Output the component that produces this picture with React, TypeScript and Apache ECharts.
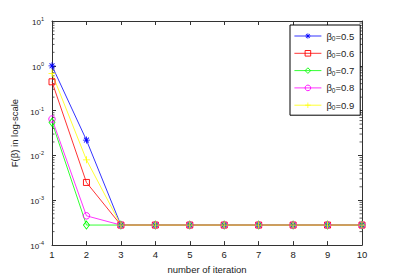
import React, { useEffect, useRef } from "react";
import * as echarts from "echarts";

const iterations = [1, 2, 3, 4, 5, 6, 7, 8, 9, 10];
const beta05 = [1.0, 0.022, 0.00028, 0.00028, 0.00028, 0.00028, 0.00028, 0.00028, 0.00028, 0.00028];
const beta06 = [0.44, 0.0025, 0.00028, 0.00028, 0.00028, 0.00028, 0.00028, 0.00028, 0.00028, 0.00028];
const beta07 = [0.055, 0.00028, 0.00028, 0.00028, 0.00028, 0.00028, 0.00028, 0.00028, 0.00028, 0.00028];
const beta08 = [0.065, 0.00045, 0.00028, 0.00028, 0.00028, 0.00028, 0.00028, 0.00028, 0.00028, 0.00028];
const beta09 = [0.68, 0.008, 0.00028, 0.00028, 0.00028, 0.00028, 0.00028, 0.00028, 0.00028, 0.00028];
const seriesNames = ["β0=0.5", "β0=0.6", "β0=0.7", "β0=0.8", "β0=0.9"];
const betaLabels = ["0.5", "0.6", "0.7", "0.8", "0.9"];
const yMin = 1e-4;
const yMax = 10;
const decades = [-4, -3, -2, -1, 0];
const minorMultipliers = [2, 3, 4, 5, 6, 7, 8, 9];

const FONT = "Liberation Sans, Arial, Helvetica, sans-serif";

const PLUS = "path://M-0.6,-5L0.6,-5L0.6,5L-0.6,5Z M-5,-0.6L5,-0.6L5,0.6L-5,0.6Z";
const STAR =
  "path://M-0.6,-5L0.6,-5L0.6,5L-0.6,5Z M-5,-0.6L5,-0.6L5,0.6L-5,0.6Z " +
  "M-3.08,-3.92L3.92,3.08L3.08,3.92L-3.92,-3.08Z M3.08,-3.92L3.92,-3.08L-3.08,3.92L-3.92,3.08Z";

const colors = ["#0000ff", "#ff0000", "#00ff00", "#ff00ff", "#ffff00"];
const filledFlags = [true, false, false, false, true];

export default function App() {
  const ref = useRef<HTMLDivElement>(null);
  useEffect(() => {
    if (!ref.current) return;
    const chart = echarts.init(ref.current, null, { renderer: "svg" });
    const minorData: number[][] = [];
    decades.forEach((d) => minorMultipliers.forEach((m) => minorData.push([1, m * Math.pow(10, d)])));

    const styleFor = (i: number) =>
      filledFlags[i]
        ? { color: colors[i], borderWidth: 0 }
        : { color: "rgba(0,0,0,0)", borderColor: colors[i], borderWidth: 0.9 };

    const mk = (i: number, data: number[], symbol: string, size: any) => ({
      name: seriesNames[i],
      type: "line",
      data: iterations.map((x, k) => [x, data[k]]),
      symbol,
      symbolSize: size,
      lineStyle: { color: colors[i], width: 0.8 },
      itemStyle: styleFor(i),
      color: colors[i],
      z: 3,
    });

    const axisLineStyle = { color: "#333", width: 1 };
    chart.setOption({
      animation: false,
      backgroundColor: "#fff",
      textStyle: { fontFamily: FONT },
      grid: { left: 52, right: 37, top: 21, bottom: 32 },
      legend: {
        orient: "vertical",
        left: 290,
        top: 25,
        padding: [4, 6, 4, 4],
        itemWidth: 27,
        itemHeight: 7,
        itemGap: 4.3,
        borderColor: "#000",
        borderWidth: 1,
        backgroundColor: "#fff",
        lineStyle: { width: 0.8 },
        data: seriesNames.map((n, i) => ({ name: n, itemStyle: styleFor(i), lineStyle: { color: colors[i], width: 0.8 } })),
        formatter: (n: string) => {
          const i = seriesNames.indexOf(n);
          return `{a|β}{s|0}{a|=${betaLabels[i]}}`;
        },
        textStyle: {
          fontFamily: FONT,
          rich: {
            a: { fontSize: 9.5, lineHeight: 12, color: "#222", fontFamily: FONT },
            s: { fontSize: 6.5, lineHeight: 12, color: "#222", verticalAlign: "bottom", padding: [6, 0, 0, 0], fontFamily: FONT },
          },
        },
      },
      xAxis: [
        {
          type: "value",
          min: 1,
          max: 10,
          interval: 1,
          name: "number of iteration",
          nameLocation: "middle",
          nameGap: 16,
          nameTextStyle: { fontSize: 9.5, color: "#222", fontFamily: FONT },
          axisLine: { lineStyle: axisLineStyle },
          axisTick: { inside: true, length: 4, lineStyle: axisLineStyle },
          axisLabel: { fontSize: 9.5, color: "#222", margin: 4, fontFamily: FONT },
          splitLine: { show: false },
        },
        {
          type: "value",
          min: 1,
          max: 10,
          interval: 1,
          position: "top",
          axisLine: { lineStyle: axisLineStyle },
          axisTick: { inside: true, length: 4, lineStyle: axisLineStyle },
          axisLabel: { show: false },
          splitLine: { show: false },
        },
      ],
      yAxis: [
        {
          type: "log",
          logBase: 10,
          min: yMin,
          max: yMax,
          name: "F(β) in log-scale",
          nameLocation: "middle",
          nameGap: 21,
          nameTextStyle: { fontSize: 9.5, color: "#222", fontFamily: FONT },
          axisLine: { show: true, lineStyle: axisLineStyle },
          axisTick: { inside: true, length: 4, lineStyle: axisLineStyle },
          axisLabel: {
            margin: 8,
            formatter: (v: number) => `{b|10}{e|${Math.round(Math.log10(v))}}`,
            rich: {
              b: { fontSize: 8, lineHeight: 10, color: "#222", fontFamily: FONT, padding: [3, 0, 0, 0] },
              e: { fontSize: 5.5, lineHeight: 10, color: "#222", fontFamily: FONT, verticalAlign: "top" },
            },
          },
          splitLine: { show: false },
        },
        {
          type: "log",
          logBase: 10,
          min: yMin,
          max: yMax,
          position: "right",
          axisLine: { show: true, lineStyle: axisLineStyle },
          axisTick: { inside: true, length: 4, lineStyle: axisLineStyle },
          axisLabel: { show: false },
          splitLine: { show: false },
        },
      ],
      series: [
        {
          type: "custom",
          silent: true,
          z: 1,
          clip: false,
          data: minorData,
          encode: { x: 0, y: 1 },
          renderItem: (params: any, api: any) => {
            const v = api.value(1);
            const l = api.coord([1, v]);
            const r = api.coord([10, v]);
            const st = { stroke: "#333", lineWidth: 0.8 };
            return {
              type: "group",
              children: [
                { type: "line", shape: { x1: l[0], y1: l[1], x2: l[0] + 2.5, y2: l[1] }, style: st },
                { type: "line", shape: { x1: r[0], y1: r[1], x2: r[0] - 2.5, y2: r[1] }, style: st },
              ],
            };
          },
        },
        mk(0, beta05, STAR, 7),
        mk(1, beta06, "rect", 6),
        mk(2, beta07, "diamond", [6, 8]),
        mk(3, beta08, "circle", 6.5),
        mk(4, beta09, PLUS, 7),
      ],
    });
    return () => chart.dispose();
  }, []);
  return (
    <div
      ref={ref}
      style={{ position: "absolute", left: 0, top: 0, width: 399, height: 279 }}
    />
  );
}
